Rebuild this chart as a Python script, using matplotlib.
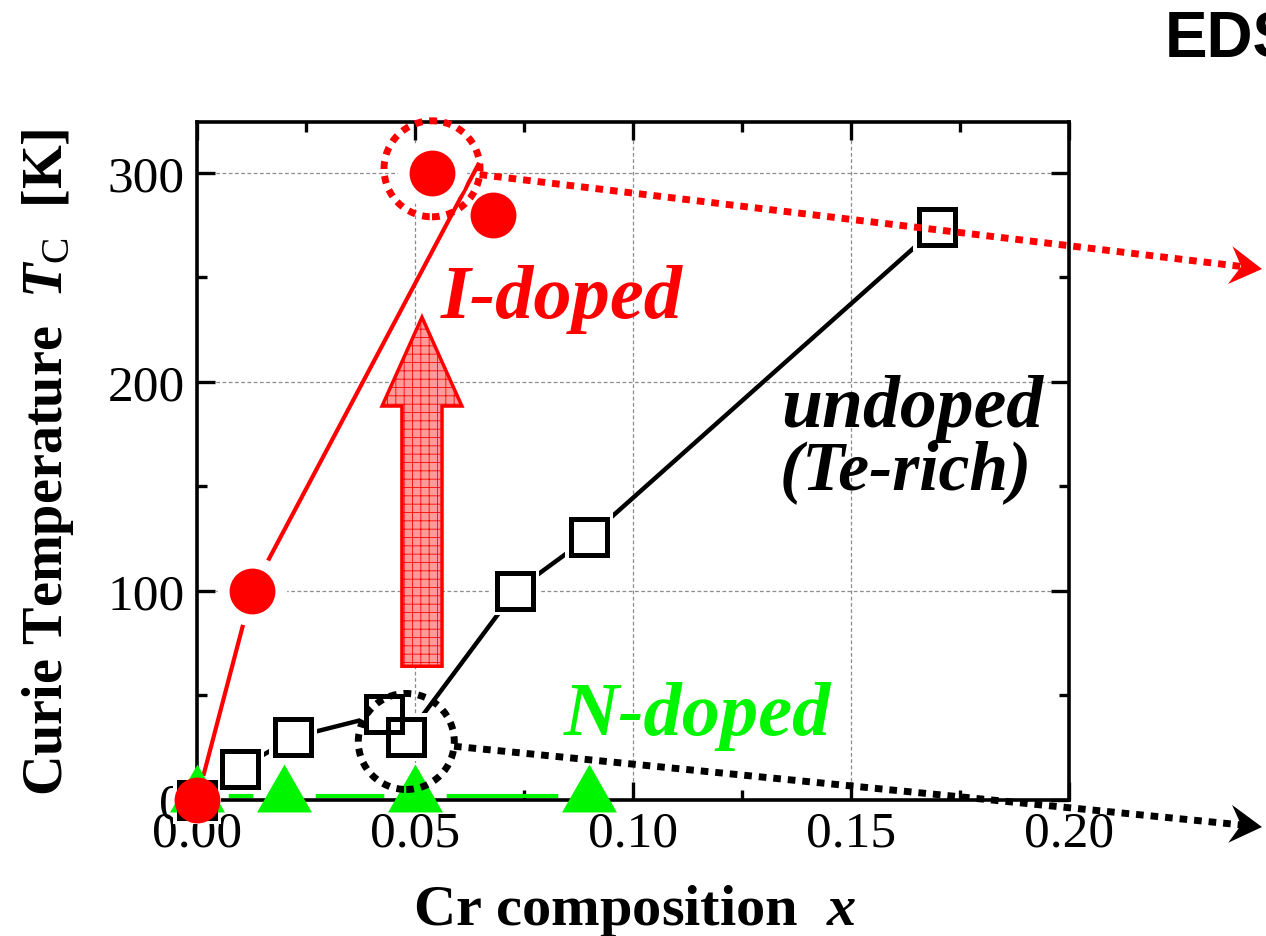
import matplotlib
matplotlib.use('Agg')
import matplotlib.pyplot as plt
import matplotlib.patches as mpatches
from matplotlib.lines import Line2D
from matplotlib.path import Path
from matplotlib.transforms import IdentityTransform
from matplotlib.ticker import MultipleLocator
import numpy as np

# I-doped samples
x_i = [0.0, 0.0126, 0.0539, 0.0679]
tc_i = [0, 100, 300, 280]
# guide line drawn through the I-doped data
guide_x_i = [0.0, 0.0126, 0.0645]
guide_tc_i = [0, 100, 304]

# undoped (Te-rich) samples
x_u = [0.0, 0.0099, 0.022, 0.0429, 0.048, 0.073, 0.090, 0.1697]
tc_u = [0, 15, 30, 41, 30, 100, 126, 274]

# N-doped samples
x_n = [0.0, 0.020, 0.050, 0.090]
tc_n = [2, 2, 2, 2]

xticks = [0.00, 0.05, 0.10, 0.15, 0.20]
xticklabels = ['0.00', '0.05', '0.10', '0.15', '0.20']
yticks = [0, 100, 200, 300]

RED = '#ff0000'
GREEN = '#00f500'

plt.rcParams['font.family'] = ['Liberation Serif', 'DejaVu Serif']
plt.rcParams['mathtext.fontset'] = 'custom'
plt.rcParams['mathtext.it'] = 'Liberation Serif:italic:bold'
plt.rcParams['mathtext.rm'] = 'Liberation Serif'
plt.rcParams['mathtext.bf'] = 'Liberation Serif:bold'
plt.rcParams['hatch.linewidth'] = 0.6

fig = plt.figure(figsize=(12.66, 9.37), dpi=100)
ax = fig.add_axes([197 / 1266, 1 - 801 / 937, 872 / 1266, 678 / 937])
ax.set_xlim(0, 0.20)
ax.set_ylim(0, 324.4)

ax.set_xticks(xticks)
ax.set_xticklabels(xticklabels)
ax.set_yticks(yticks)
ax.xaxis.set_minor_locator(MultipleLocator(0.025))
ax.yaxis.set_minor_locator(MultipleLocator(50))
ax.tick_params(which='both', direction='in', top=True, right=True,
               width=2.4, labelsize=37)
ax.tick_params(which='major', length=13)
ax.tick_params(which='minor', length=7)
ax.tick_params(axis='x', pad=7)
ax.tick_params(axis='y', pad=9)
for s in ax.spines.values():
    s.set_linewidth(2.6)
ax.set_axisbelow(True)
ax.grid(True, which='major', color='#8c8c8c', ls=(0, (3, 2)), lw=0.9)

# triangle centred on its centroid, as the original software draws it
tri = Path([(0, 32), (-27.5, -16), (27.5, -16), (0, 32)],
           [Path.MOVETO, Path.LINETO, Path.LINETO, Path.CLOSEPOLY])

# N-doped
ax.plot(x_n, tc_n, color=GREEN, lw=3, zorder=2.2)
ax.plot(x_n, tc_n, ls='none', marker='o', ms=45, mfc='white', mec='white',
        mew=0, zorder=2.3)
ax.plot(x_n, tc_n, ls='none', marker=tri, ms=46, mfc=GREEN, mec=GREEN,
        mew=0, clip_on=False, zorder=4)

# undoped
ax.plot(x_u, tc_u, color='black', lw=3.2, zorder=3)
ax.plot(x_u, tc_u, ls='none', marker='s', ms=34, mfc='white', mec='white',
        mew=0, clip_on=False, zorder=3.5)
ax.plot(x_u, tc_u, ls='none', marker='s', ms=26, mfc='none', mec='black',
        mew=3.6, clip_on=False, zorder=5)

# I-doped
ax.plot(guide_x_i, guide_tc_i, color=RED, lw=3, zorder=3)
ax.plot(x_i[1:], tc_i[1:], ls='none', marker='o', ms=50, mfc='white',
        mec='white', mew=0, zorder=5.5)
ax.plot(x_i, tc_i, ls='none', marker='o', ms=33, mfc=RED, mec=RED, mew=0,
        clip_on=False, zorder=6)

# big arrow: I doping raises Tc
arrow = mpatches.FancyArrow(0.0516, 64, 0, 167, width=0.0092,
                            head_width=0.0183, head_length=42.5,
                            length_includes_head=True, facecolor='#ff9a9a',
                            edgecolor=RED, lw=2.5, hatch='++', zorder=4)
ax.add_patch(arrow)

# labels inside the plot
ax.text(0.0837, 231, 'I-doped', color=RED, fontsize=55, fontweight='bold',
        fontstyle='italic', ha='center', va='baseline', zorder=7)
ax.text(0.1640, 179, 'undoped', color='black', fontsize=53,
        fontweight='bold', fontstyle='italic', ha='center', va='baseline',
        zorder=7)
ax.text(0.1626, 149, '(Te-rich)', color='black', fontsize=50,
        fontweight='bold', fontstyle='italic', ha='center', va='baseline',
        zorder=7)
ax.text(0.1147, 31.6, 'N-doped', color=GREEN, fontsize=55, fontweight='bold',
        fontstyle='italic', ha='center', va='baseline', zorder=7)

fig.text(635 / 1266, 1 - 925 / 937, r'Cr composition  $x$', fontsize=42,
         fontweight='bold', ha='center', va='baseline')
fig.text(48 / 1266, 1 - 462 / 937, r'Curie Temperature  $T_{\mathrm{C}}$  [K]',
         fontsize=40.5, fontweight='bold', rotation=90, ha='center',
         va='center')
fig.text(1165 / 1266, 1 - 58 / 937, 'EDS', family='Liberation Sans',
         fontsize=46, fontweight='bold', ha='left', va='baseline')


# dotted circle + dotted arrow leaving the figure
def callout(xy, end_px, color, radius=48):
    c = ax.transData.transform(xy)
    end = np.array([end_px[0], 937 - end_px[1]], dtype=float)
    d = (end - c) / np.hypot(*(end - c))
    n = np.array([-d[1], d[0]])
    dots = (0, (1.1, 1.0))
    fig.add_artist(mpatches.Circle(c, radius, fill=False, ec=color, lw=5,
                                   ls=dots, transform=IdentityTransform(),
                                   zorder=8))
    head_len, half_w, notch = 32, 19, 11
    start = c + d * radius
    stop = end - d * (head_len - notch)
    fig.add_artist(Line2D([start[0], stop[0]], [start[1], stop[1]],
                          color=color, lw=5, ls=dots,
                          transform=IdentityTransform(), zorder=8))
    back = end - d * head_len
    head = [end, back + n * half_w, end - d * (head_len - notch),
            back - n * half_w]
    fig.add_artist(mpatches.Polygon(head, closed=True, fc=color, ec='none',
                                    transform=IdentityTransform(), zorder=8))


callout((x_i[2], tc_i[2] + 2), (1262, 270), RED)
callout((x_u[4], tc_u[4] - 2), (1262, 828), 'black')

fig.savefig('out.png', dpi=100)
